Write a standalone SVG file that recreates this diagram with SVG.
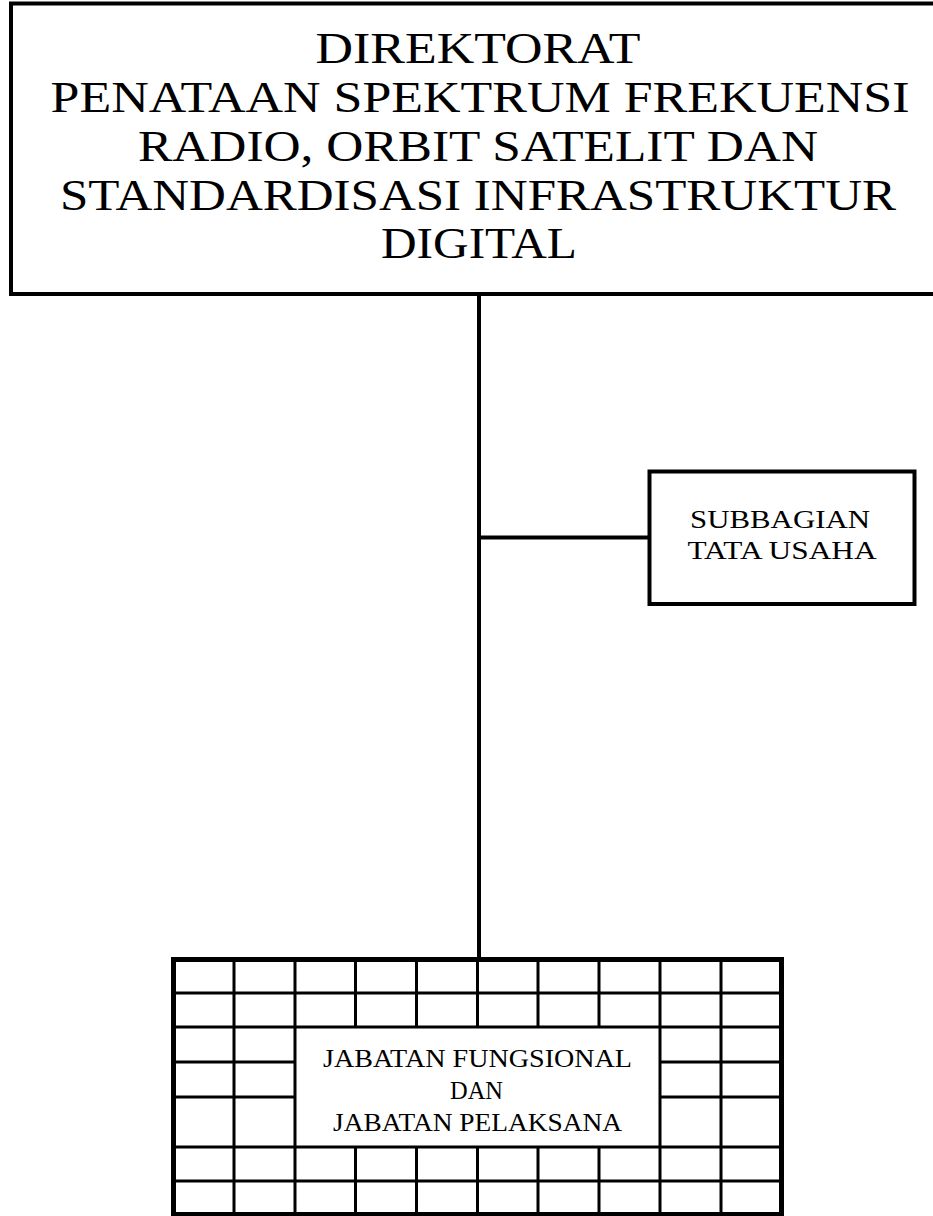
<svg xmlns="http://www.w3.org/2000/svg" width="933" height="1216" viewBox="0 0 933 1216">
<style>
.box{fill:#fff;stroke:#000;stroke-width:4}
.grid{fill:none;stroke:#000;stroke-width:3}
.outer{fill:none;stroke:#000;stroke-width:5}
.conn{stroke:#000;stroke-width:4;fill:none}
.t{font-family:"Liberation Serif","Times New Roman",serif;fill:#000;text-anchor:middle}
.big{font-size:44px}
.small{font-size:26px}
</style>
<rect width="933" height="1216" fill="#fff"/>
<g id="connectors">
<line class="conn" x1="479" y1="294" x2="479" y2="958"/>
<line class="conn" x1="479" y1="537.5" x2="650" y2="537.5"/>
</g>
<g id="direktorat">
<rect class="box" x="11" y="3.5" width="940" height="290.5"/>
<text class="t big" x="478" y="63" textLength="325" lengthAdjust="spacingAndGlyphs">DIREKTORAT</text>
<text class="t big" x="480" y="112" textLength="859" lengthAdjust="spacingAndGlyphs">PENATAAN SPEKTRUM FREKUENSI</text>
<text class="t big" x="478" y="161" textLength="680" lengthAdjust="spacingAndGlyphs">RADIO, ORBIT SATELIT DAN</text>
<text class="t big" x="478" y="210" textLength="836" lengthAdjust="spacingAndGlyphs">STANDARDISASI INFRASTRUKTUR</text>
<text class="t big" x="479" y="258" textLength="196" lengthAdjust="spacingAndGlyphs">DIGITAL</text>
</g>
<g id="subbagian">
<rect class="box" x="649.5" y="471.5" width="265" height="132.5"/>
<text class="t small" x="780" y="528" textLength="180" lengthAdjust="spacingAndGlyphs">SUBBAGIAN</text>
<text class="t small" x="782" y="559" textLength="189" lengthAdjust="spacingAndGlyphs">TATA USAHA</text>
</g>
<g id="jabatan">
<rect x="173.5" y="959.5" width="608" height="256" fill="#fff"/>
<path class="grid" d="M173.5 993H781.5M173.5 1027H781.5M173.5 1147H781.5M173.5 1181H781.5M173.5 1062H295M173.5 1097H295M660 1062H781.5M660 1097H781.5M234 959.5V1216M295 959.5V1216M660 959.5V1216M721 959.5V1216M355.5 959.5V1027M416.5 959.5V1027M477.5 959.5V1027M538 959.5V1027M599 959.5V1027M355.5 1147V1216M416.5 1147V1216M477.5 1147V1216M538 1147V1216M599 1147V1216"/>
<rect class="outer" x="173.5" y="959.5" width="608" height="255"/>
<text class="t small" x="477.5" y="1067" textLength="309" lengthAdjust="spacingAndGlyphs">JABATAN FUNGSIONAL</text>
<text class="t small" x="476.5" y="1099" textLength="53" lengthAdjust="spacingAndGlyphs">DAN</text>
<text class="t small" x="477.5" y="1131" textLength="289" lengthAdjust="spacingAndGlyphs">JABATAN PELAKSANA</text>
</g>
</svg>
